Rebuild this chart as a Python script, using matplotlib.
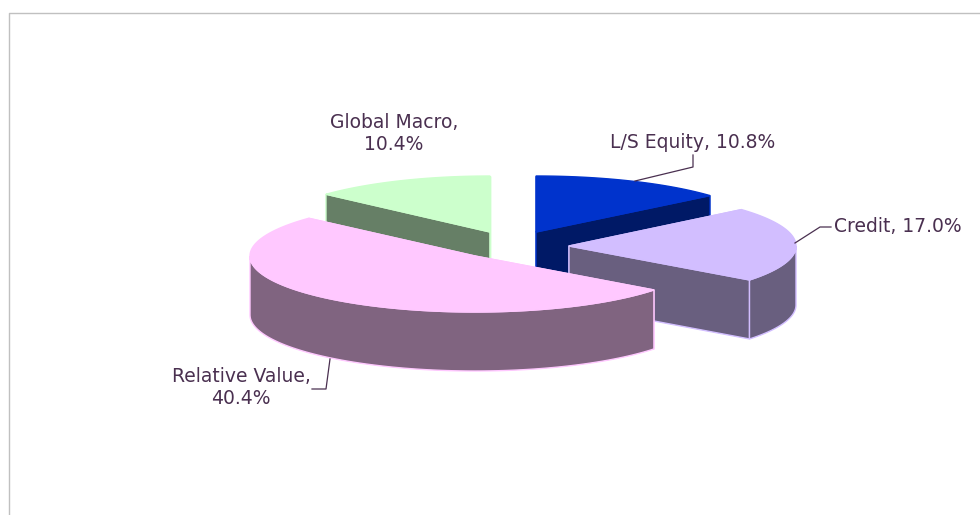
import numpy as np
import matplotlib
matplotlib.use('Agg')
import matplotlib.pyplot as plt

plt.rcParams['font.family'] = ['DejaVu Sans']

# Slice data, clockwise from 12 o'clock
names = ['L/S Equity', 'Credit', 'Relative Value', 'Global Macro']
values = [10.8, 17.0, 40.4, 10.4]
top_colors = ['#0033CC', '#D2BEFF', '#FFC8FF', '#CCFFCC']
side_colors = ['#001966', '#695F7F', '#806480', '#667F66']

# Layout in pixels of the exploded slices
centers = [(536, 232), (569, 246), (475, 256), (490, 232)]
radii_x = [229, 227, 225, 222]
ry, depth = 56, 59
draw_order = [3, 0, 1, 2]

label_breaks = [', ', ', ', ',\n', ',\n']
label_pos = [(693, 142), (898, 227), (241, 388), (394, 133)]
leaders = [
    ([635, 693, 693], [181, 167, 155]),
    ([795, 820, 831], [243, 227, 227]),
    ([330, 326, 312], [359, 389, 389]),
]
text_color = '#4A3050'

fig = plt.figure(figsize=(9.8, 5.15), dpi=100)
ax = fig.add_axes([0, 0, 1, 1])
ax.set_xlim(0, 980)
ax.set_ylim(515, 0)
ax.axis('off')

# Chart frame, open at the right and bottom
ax.plot([8.5, 8.5, 980], [515, 12.5, 12.5], color='#C0C0C0', lw=1)

# Slice angles in degrees
ends = np.cumsum(values) / np.sum(values) * 360
starts = np.concatenate([[0], ends[:-1]])


def ellipse_xy(c, rx, theta):
    t = np.radians(theta)
    return c[0] + rx * np.sin(t), c[1] - ry * np.cos(t)


for rank, i in enumerate(draw_order):
    c = centers[i]
    rx = radii_x[i]
    a0, a1 = starts[i], ends[i]
    top = top_colors[i]
    side = side_colors[i]
    z = rank + 2

    # Flat cut faces
    for a in (a0, a1):
        x, y = ellipse_xy(c, rx, a)
        ax.fill([c[0], x, x, c[0]], [c[1], y, y + depth, c[1] + depth],
                facecolor=side, edgecolor=top, lw=1, zorder=z)

    # Curved outer wall, only the part facing the viewer
    lo, hi = max(a0, 90), min(a1, 270)
    if lo < hi:
        th = np.linspace(lo, hi, 120)
        x, y = ellipse_xy(c, rx, th)
        ax.fill(np.r_[x, x[::-1]], np.r_[y, y[::-1] + depth],
                facecolor=side, edgecolor=top, lw=1, zorder=z)

    # Top surface
    th = np.linspace(a0, a1, 200)
    x, y = ellipse_xy(c, rx, th)
    ax.fill(np.r_[c[0], x], np.r_[c[1], y], facecolor=top, edgecolor=top, lw=1, zorder=z)

for xs, ys in leaders:
    ax.plot(xs, ys, color=text_color, lw=0.9, zorder=10)

for name, val, sep, pos in zip(names, values, label_breaks, label_pos):
    ax.text(pos[0], pos[1], f'{name}{sep}{val:.1f}%', color=text_color, fontsize=13.5,
            ha='center', va='center', linespacing=1.2, zorder=11)

fig.savefig('out.png', dpi=100)
